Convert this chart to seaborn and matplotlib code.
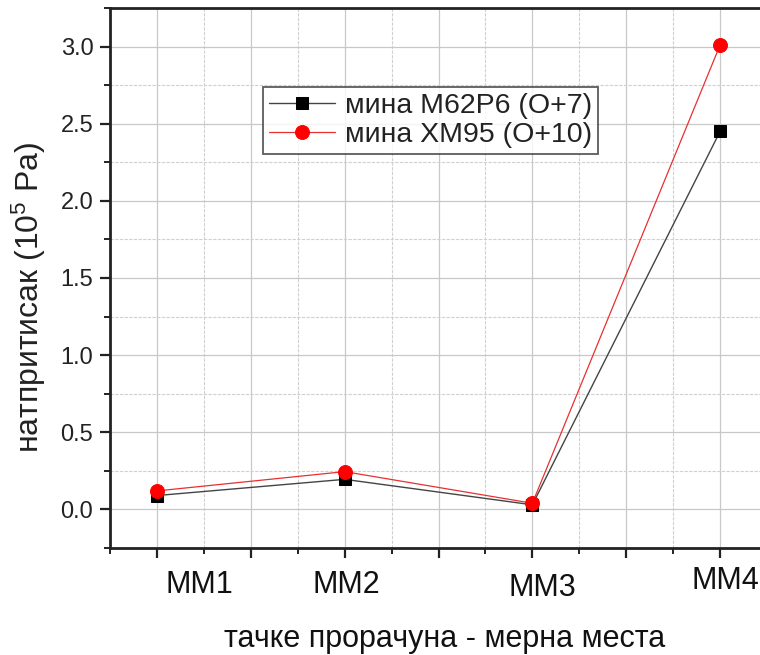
import numpy as np
import pandas as pd
import matplotlib
matplotlib.use("Agg")
import matplotlib.pyplot as plt
import matplotlib.transforms as mtransforms
from matplotlib.ticker import MultipleLocator
import seaborn as sns

categories = ["MM1", "MM2", "MM3", "MM4"]
series_names = ["мина M62P6 (O+7)", "мина XM95 (O+10)"]
m62p6 = [0.09, 0.195, 0.03, 2.45]
xm95 = [0.12, 0.245, 0.04, 3.01]
y_ticks = [0.0, 0.5, 1.0, 1.5, 2.0, 2.5, 3.0]
x_label = "тачке прорачуна - мерна места"
y_label = "натпритисак (10$^5$ Pa)"

sns.set_theme(style="white")
plt.rcParams["font.family"] = ["Liberation Sans", "DejaVu Sans"]
plt.rcParams["mathtext.default"] = "regular"

pos = np.arange(1, len(categories) + 1)
df = pd.DataFrame({
    "pos": np.concatenate([pos, pos]),
    "value": m62p6 + xm95,
    "series": [series_names[0]] * len(pos) + [series_names[1]] * len(pos),
})

fig = plt.figure(figsize=(7.6, 6.55), dpi=100)
ax = fig.add_axes([110 / 760, 107 / 655, 657 / 760, 540 / 655])

sns.lineplot(data=df[df.series == series_names[0]], x="pos", y="value",
             ax=ax, color="#444444", lw=1.0, marker="s", markersize=8,
             markerfacecolor="black", markeredgecolor="black",
             label=series_names[0], zorder=3)
sns.lineplot(data=df[df.series == series_names[1]], x="pos", y="value",
             ax=ax, color="#e83030", lw=0.9, marker="o", markersize=10,
             markerfacecolor="#ff0000", markeredgecolor="#ff0000",
             label=series_names[1], zorder=4)

ax.set_xlim(0.75, 4.25)
ax.set_ylim(-0.25, 3.25)
ax.xaxis.set_major_locator(MultipleLocator(0.5))
ax.xaxis.set_minor_locator(MultipleLocator(0.25))
ax.yaxis.set_major_locator(MultipleLocator(0.5))
ax.yaxis.set_minor_locator(MultipleLocator(0.25))

xt = ax.get_xticks()
ax.set_xticks(xt)
ax.set_xticklabels([categories[int(round(t)) - 1] if abs(t - round(t)) < 1e-6 and 1 <= round(t) <= 4 else "" for t in xt])
ax.set_xlim(0.75, 4.25)
ax.set_yticks(y_ticks)
ax.set_yticklabels([f"{v:.1f}" for v in y_ticks])
ax.set_ylim(-0.25, 3.25)

ax.grid(which="major", color="#c8c8c8", lw=0.9, ls="-")
ax.grid(which="minor", color="#d0d0d0", lw=0.8, ls=(0, (3, 1.2)))
ax.set_axisbelow(True)

for s in ["left", "bottom", "top"]:
    ax.spines[s].set_color("#222222")
    ax.spines[s].set_linewidth(2.0)
ax.spines["right"].set_visible(False)

ax.tick_params(axis="x", which="major", direction="out", length=7, width=1.6,
               color="#222222", labelsize=22, labelcolor="#111111", pad=9, bottom=True)
ax.tick_params(axis="x", which="minor", direction="out", length=4, width=1.4,
               color="#222222", bottom=True)
ax.tick_params(axis="y", which="major", direction="out", length=7, width=1.6,
               color="#222222", labelsize=17, labelcolor="#222222", pad=5, left=True)
ax.tick_params(axis="y", which="minor", direction="out", length=4, width=1.4,
               color="#222222", left=True)

# per-label pixel offsets as in the reference (labels slightly displaced)
label_offsets = {"MM1": (42, 0), "MM2": (2, 0), "MM3": (10, -3), "MM4": (5, 4)}
for lab in ax.get_xticklabels():
    txt = lab.get_text()
    if txt in label_offsets:
        dx, dy = label_offsets[txt]
        lab.set_transform(lab.get_transform() +
                          mtransforms.ScaledTranslation(dx / fig.dpi, dy / fig.dpi, fig.dpi_scale_trans))

ax.set_xlabel(x_label, fontsize=22, color="#111111")
ax.xaxis.set_label_coords(0.51, -0.183)
ax.xaxis.label.set_verticalalignment("baseline")
ax.set_ylabel(y_label, fontsize=23, color="#222222")
ax.yaxis.set_label_coords(-0.095, 0.463)

leg = ax.legend(loc="upper left", bbox_to_anchor=(0.233, 0.854), borderaxespad=0,
                fontsize=20.5, frameon=True, fancybox=False, handlelength=2.3,
                borderpad=0.22, labelspacing=0.1, handletextpad=0.35)
leg.get_frame().set_edgecolor("#333333")
leg.get_frame().set_linewidth(1.3)
for t in leg.get_texts():
    t.set_color("#222222")

fig.savefig("out.png", dpi=100)
